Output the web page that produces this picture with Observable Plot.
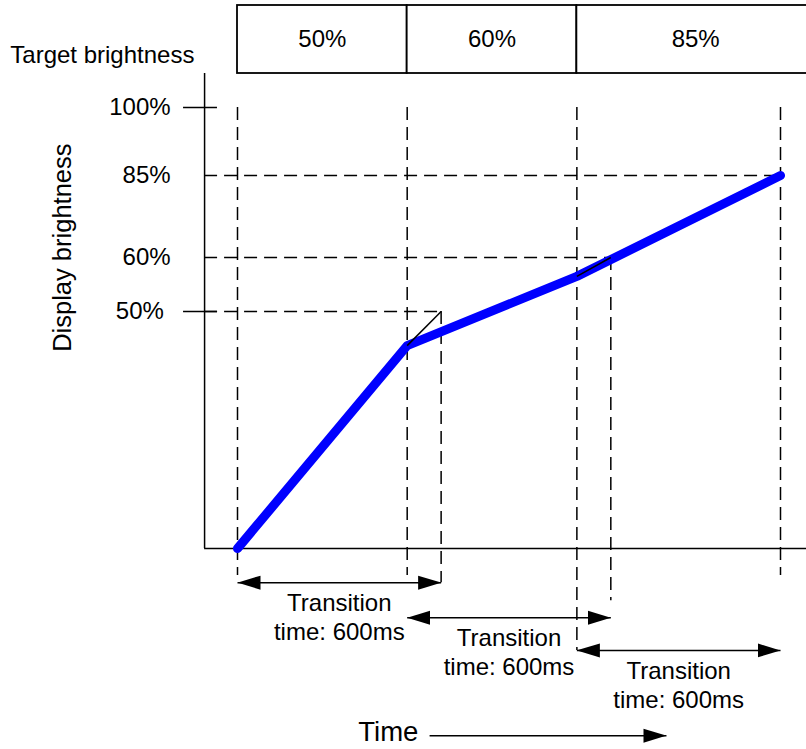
<!DOCTYPE html>
<html><head><meta charset="utf-8">
<script src="https://cdn.jsdelivr.net/npm/d3@7"></script>
<script src="https://cdn.jsdelivr.net/npm/@observablehq/plot@0.6"></script>
<style>html,body{margin:0;padding:0;background:#fff;overflow:hidden}</style>
</head><body><div id="chart"></div>
<script>
// ---- data ----
const targetLabels = ["50%", "60%", "85%"];
const targetValues = [50, 60, 85];
const requestTimes = [0, 500, 1000];      // ms: a new target brightness is set
const transitionMs = 600;
const boxEndTime = 1700;
const displayTimes = [0, 500, 1000, 1600];
const displayValues = [0, 42.8, 56.5, 85];
const tickValues = [100, 85, 60, 50];
const tickLabels = ["100%", "85%", "60%", "50%"];
const solidTicks = [100, 50];
const axisTime = -97;
const axisTop = 107.5;
const boxBottom = 107.5, boxTop = 122.5;
const arrowRows = [-7.2, -14.6, -21.5];
const transitionText = "Transition\ntime: 600ms";
const guideTimes = [0, 500, 600, 1000, 1100, 1600];
const guideTops = [100, 100, 50, 100, 60, 100];
const guideBottoms = [-5.7, -5.7, -7.2, -21.5, -11, -5.7];
const timeArrow = {t1: 566, t2: 1264, y: -39.5};

// ---- derived tables ----
const transitions = requestTimes.map((t, i) => ({
  start: t, end: t + transitionMs, target: targetValues[i], label: targetLabels[i],
  boxEnd: i < requestTimes.length - 1 ? requestTimes[i + 1] : boxEndTime, row: arrowRows[i]
}));
const display = displayTimes.map((t, i) => ({t, v: displayValues[i]}));
const overshoot = transitions.slice(0, 2).map((d, i) => ({
  x1: displayTimes[i + 1], y1: displayValues[i + 1], x2: d.end, y2: d.target
}));
const guides = guideTimes.map((t, i) => ({t, top: guideTops[i], bottom: guideBottoms[i]}));
const ticks = tickValues.map((v, i) => ({v, label: tickLabels[i]}));

function filledArrow(color) {
  const ns = "http://www.w3.org/2000/svg";
  const m = document.createElementNS(ns, "marker");
  m.setAttribute("viewBox", "-23 -7.5 23 15");
  m.setAttribute("markerWidth", "23");
  m.setAttribute("markerHeight", "15");
  m.setAttribute("markerUnits", "userSpaceOnUse");
  m.setAttribute("orient", "auto-start-reverse");
  m.setAttribute("refX", "0");
  m.setAttribute("refY", "0");
  const p = document.createElementNS(ns, "path");
  p.setAttribute("d", "M-23,-7L0,0L-23,7Z");
  p.setAttribute("fill", (!color || color === "currentColor") ? "black" : color);
  p.setAttribute("stroke", "none");
  m.appendChild(p);
  return m;
}

function build(marker) {
  const dash = "13,7";
  const sw = 1.5;
  return Plot.plot({
    width: 806, height: 749,
    marginTop: 0, marginRight: 0, marginBottom: 0, marginLeft: 0,
    style: {fontFamily: "'Liberation Sans', Arial, sans-serif", background: "white", color: "black"},
    x: {type: "linear", domain: [0, 1600], range: [237, 780], axis: null},
    y: {type: "linear", domain: [0, 50, 60, 85, 100], range: [548, 311, 257, 175, 107], axis: null},
    marks: [
      // dashed vertical guides
      Plot.ruleX(guides, {x: "t", y1: "top", y2: "bottom", stroke: "black", strokeWidth: sw, strokeDasharray: dash}),
      // dashed horizontal guides to targets
      Plot.ruleY(transitions, {y: "target", x1: axisTime, x2: "end", stroke: "black", strokeWidth: sw, strokeDasharray: dash}),
      // axes
      Plot.ruleX([axisTime], {y1: 0, y2: axisTop, stroke: "black", strokeWidth: sw}),
      Plot.ruleY([0], {x1: axisTime, x2: boxEndTime, stroke: "black", strokeWidth: sw}),
      Plot.ruleY(solidTicks, {x1: -159, x2: -59, stroke: "black", strokeWidth: sw}),
      // tick labels
      Plot.text(ticks.filter(d => d.v !== 50), {x: -197, y: "v", text: "label", textAnchor: "end", fontSize: 24}),
      Plot.text(ticks.filter(d => d.v === 50), {x: -217, y: "v", text: "label", textAnchor: "end", fontSize: 24}),
      // target brightness boxes
      Plot.rect(transitions, {x1: "start", x2: "boxEnd", y1: boxBottom, y2: boxTop, fill: "white", stroke: "black", strokeWidth: 1.8}),
      Plot.text(transitions, {x: d => (d.start + d.boxEnd) / 2, y: (boxBottom + boxTop) / 2, text: "label", fontSize: 24}),
      Plot.text(["Target brightness"], {x: -127, y: 111.5, text: d => d, textAnchor: "end", fontSize: 24}),
      Plot.text(["Display brightness"], {x: -516, y: 63, text: d => d, rotate: -90, fontSize: 25.5}),
      // display brightness curve
      Plot.line(display, {x: "t", y: "v", stroke: "#0000ff", strokeWidth: 9, strokeLinecap: "round", strokeLinejoin: "round"}),
      Plot.link(overshoot, {x1: "x1", y1: "y1", x2: "x2", y2: "y2", stroke: "black", strokeWidth: sw}),
      // transition arrows
      Plot.link(transitions, {x1: "start", x2: "end", y1: "row", y2: "row", stroke: "black", strokeWidth: sw, markerStart: marker, markerEnd: marker}),
      Plot.text(transitions, {x: d => (d.start + d.end) / 2, y: "row", dy: 8, text: () => transitionText, lineAnchor: "top", lineHeight: 1.2, fontSize: 24}),
      // time arrow
      Plot.link([timeArrow], {x1: "t1", x2: "t2", y1: "y", y2: "y", stroke: "black", strokeWidth: sw, markerEnd: marker}),
      Plot.text(["Time"], {x: 533, y: timeArrow.y, dy: -4, text: d => d, textAnchor: "end", fontSize: 27.5})
    ]
  });
}

let chart;
try { chart = build(filledArrow); } catch (e) { console.error(e); chart = build("arrow"); }
document.getElementById("chart").appendChild(chart);
</script>
</body></html>
